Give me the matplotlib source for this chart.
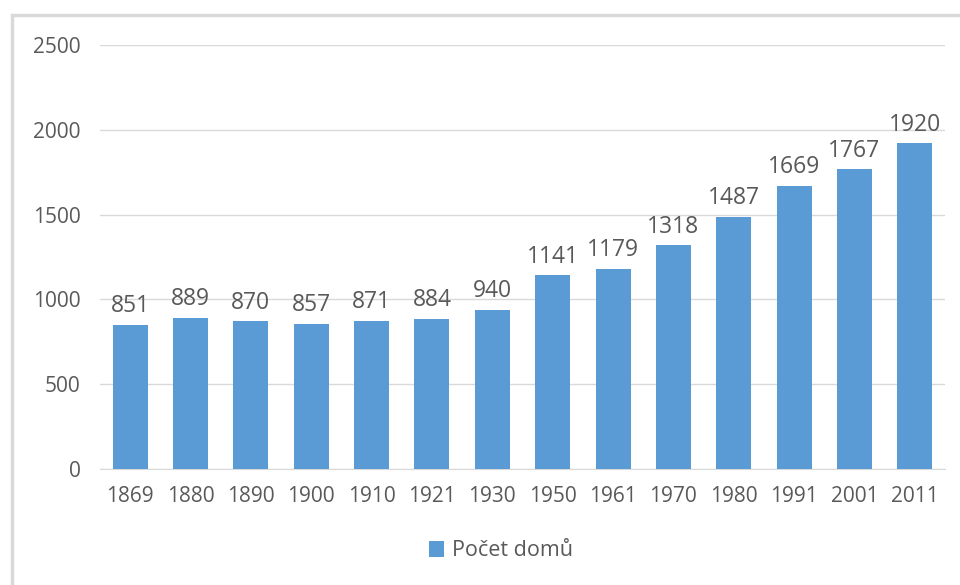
import matplotlib.pyplot as plt
from matplotlib.patches import Rectangle

# data
years = ['1869', '1880', '1890', '1900', '1910', '1921', '1930',
         '1950', '1961', '1970', '1980', '1991', '2001', '2011']
houses = [851, 889, 870, 857, 871, 884, 940,
          1141, 1179, 1318, 1487, 1669, 1767, 1920]
series_name = 'Počet domů'

bar_color = '#5B9BD5'
text_color = '#595959'
grid_color = '#D9D9D9'

plt.rcParams['font.family'] = ['Open Sans', 'DejaVu Sans']

fig = plt.figure(figsize=(9.6, 5.85), dpi=100)
ax = fig.add_axes([100 / 960, (585 - 469) / 585, 845 / 960, (469 - 45) / 585])

# outer chart frame (left and top visible, rest cropped)
fig.patches.append(Rectangle((12 / 960, -0.1), 1.1, (585 - 15) / 585 + 0.1,
                             transform=fig.transFigure, fill=False,
                             edgecolor='#D9D9D9', linewidth=2.5))

x = range(len(years))
bars = ax.bar(x, houses, width=0.58, color=bar_color, zorder=3,
              label=series_name)

for xi, v in zip(x, houses):
    ax.text(xi, v + 40, str(v), ha='center', va='bottom',
            fontsize=16.5, color=text_color)

ax.set_xlim(-0.5, len(years) - 0.5)
ax.set_ylim(0, 2500)
ax.set_yticks(range(0, 2501, 500))
ax.set_xticks(list(x))
ax.set_xticklabels(years)
ax.tick_params(axis='both', length=0, labelsize=15, labelcolor=text_color)
ax.tick_params(axis='y', pad=14)
ax.tick_params(axis='x', pad=12)
ax.grid(axis='y', color=grid_color, linewidth=1, zorder=0)
for side in ['top', 'right', 'left']:
    ax.spines[side].set_visible(False)
ax.spines['bottom'].set_color(grid_color)

fig.legend(handles=[bars], labels=[series_name], loc='center',
           bbox_to_anchor=(501 / 960, 1 - 551 / 585), frameon=False,
           fontsize=15.5, labelcolor=text_color, handlelength=0.7,
           handleheight=0.7, handletextpad=0.4)

fig.savefig('out.png', dpi=100, facecolor='white')
